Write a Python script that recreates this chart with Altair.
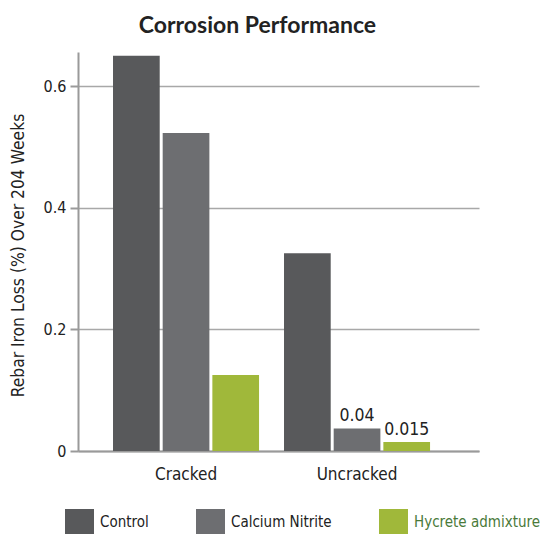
import altair as alt
import pandas as pd

groups = ["Cracked", "Uncracked"]
series = ["Control", "Calcium Nitrite", "Hycrete admixture"]
cracked = [0.65, 0.523, 0.125]
uncracked = [0.325, 0.037, 0.015]
uncracked_labels = ["", "0.04", "0.015"]
colors = ["#58595b", "#6d6e71", "#a0b83a"]
y_ticks = [0, 0.2, 0.4, 0.6]

rows = []
for s, v in zip(series, cracked):
    rows.append({"group": "Cracked", "series": s, "value": v, "label": ""})
for s, v, l in zip(series, uncracked, uncracked_labels):
    rows.append({"group": "Uncracked", "series": s, "value": v, "label": l})
df = pd.DataFrame(rows)

FONT = "DejaVu Sans Condensed"

x = alt.X("group:N", sort=groups, title=None,
          scale=alt.Scale(paddingInner=0.146, paddingOuter=0.2455, align=0.417),
          axis=alt.Axis(labelAngle=0, ticks=False, labelFontSize=17, labelFont=FONT,
                        labelColor="#222", labelPadding=15, domainColor="#9a9a9a", domainWidth=2,
                        labelBaseline="top"))
xo = alt.XOffset("series:N", sort=series, scale=alt.Scale(paddingInner=0.06))
y = alt.Y("value:Q", scale=alt.Scale(domain=[0, 0.656], nice=False),
          title="Rebar Iron Loss (%) Over 204 Weeks",
          axis=alt.Axis(values=y_ticks, format="~g", labelFontSize=16, labelFont=FONT, labelColor="#222",
                        titleFont=FONT, titleFontSize=17.3, titleFontWeight="normal", titleColor="#222",
                        titlePadding=16, titleY=203, domainColor="#9a9a9a", domainWidth=2,
                        tickColor="#9a9a9a", tickSize=8, tickWidth=2,
                        gridColor="#a8a8a8", gridWidth=1.5, labelPadding=4))

bars = alt.Chart(df).mark_bar().encode(
    x=x, xOffset=xo, y=y,
    color=alt.Color("series:N", sort=series,
                    scale=alt.Scale(domain=series, range=colors),
                    legend=alt.Legend(orient="none", legendX=-13, legendY=455, direction="horizontal",
                                      title=None, symbolType="M-1,-0.862H1V0.862H-1Z", symbolSize=841,
                                      symbolStrokeWidth=0, labelFont=FONT, labelFontSize=15,
                                      labelColor=alt.ExprRef("datum.label == 'Hycrete admixture' ? '#4a7a3a' : '#222'"),
                                      columnPadding=47, labelOffset=6, labelLimit=300))
)

text = alt.Chart(df).transform_filter("datum.label != ''").mark_text(
    baseline="alphabetic", dy=-7, fontSize=17.5, font=FONT, color="#222"
).encode(
    x=alt.X("group:N", sort=groups), xOffset=xo, y=alt.Y("value:Q"), text="label:N"
)

chart = alt.layer(bars, text).properties(
    width=401, height=399,
    title=alt.TitleParams("Corrosion Performance", font="Lato", fontSize=23, fontWeight="bold",
                          color="#222", anchor="middle", dx=-21, dy=24, offset=20, baseline="alphabetic"),
    padding={"left": 70, "right": 61, "top": 44, "bottom": 83},
    autosize=alt.AutoSizeParams(type="none"),
).configure_view(stroke=None)

chart.save("out.html", embed_options={"renderer": "svg", "actions": False})
